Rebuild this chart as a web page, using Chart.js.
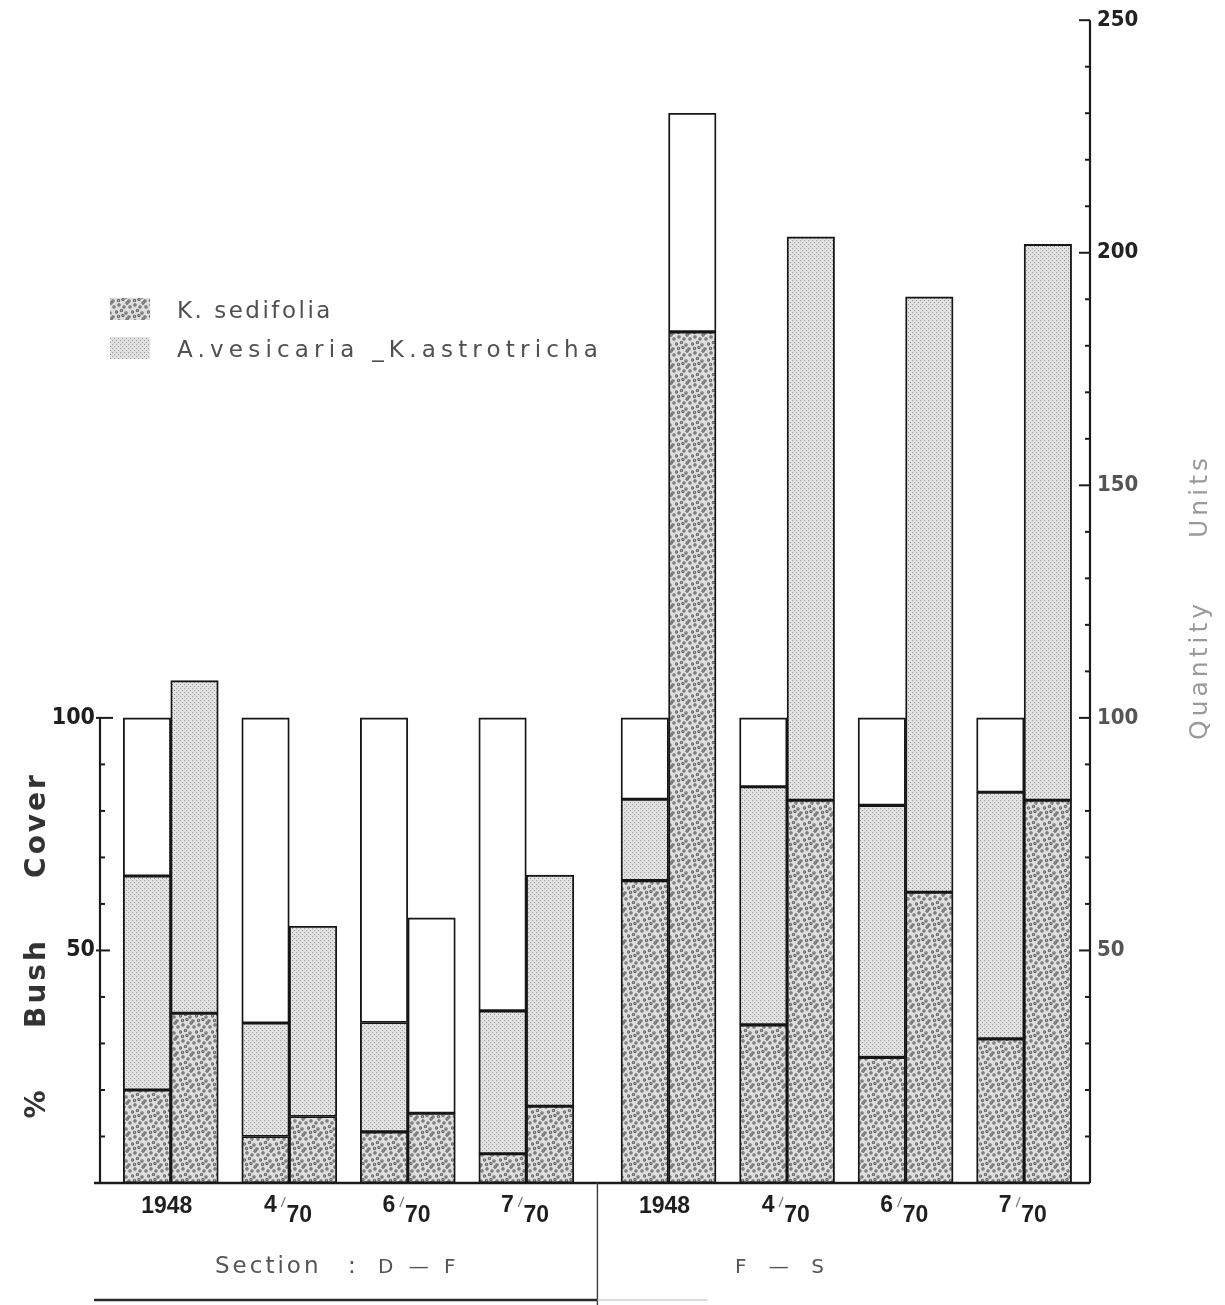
<!DOCTYPE html>
<html><head><meta charset="utf-8">
<script src="https://cdn.jsdelivr.net/npm/chart.js@4.4.1/dist/chart.umd.min.js"></script>
<style>html,body{margin:0;padding:0;background:#fff;}canvas{display:block}</style>
</head><body>
<canvas id="c" width="1225" height="1305"></canvas>
<script>
// ---------- data ----------
const groupLabels = ['1948', '4/70', '6/70', '7/70', '1948', '4/70', '6/70', '7/70'];
const sectionNames = ['D — F', 'F — S'];
const seriesNames = ['K. sedifolia', 'A.vesicaria _K.astrotricha'];
// left bar of each pair: % Bush Cover (cumulative tops of each band)
const coverSedifolia    = [20, 10, 11, 6.3, 65, 34, 27, 31];
const coverVesicariaTop = [66, 34.4, 34.5, 37, 82.5, 85.2, 81.2, 84];
const coverTotal        = [100, 100, 100, 100, 100, 100, 100, 100];
// right bar of each pair: Quantity Units (cumulative tops of each band)
const qtySedifolia      = [36.5, 14.3, 15, 16.5, 183, 82.3, 62.5, 82.3];
const qtyVesicariaTop   = [108, 55.2, 15, 66.2, 183, 203.4, 190.5, 201.8];
const qtyTotal          = [108, 55.2, 57, 66.2, 230, 203.4, 190.5, 201.8];
const leftTicks = [50, 100];
const rightTicks = [50, 100, 150, 200, 250];

// ---------- styles ----------
const SECTION_GAP = 0.2;
const positions = groupLabels.map((_, i) => i < 4 ? i : i + SECTION_GAP);

function makeTile(w, h, bg, draw) {
  const c = document.createElement('canvas');
  c.width = w; c.height = h;
  const g = c.getContext('2d');
  g.fillStyle = bg; g.fillRect(0, 0, w, h);
  draw(g, w, h);
  return c;
}
const darkTile = makeTile(16, 16, '#dedede', (g, w, h) => {
  const pts = [[2,3],[7,1],[12,3],[4.5,8],[9.5,6.5],[14,9],[1,13],[6.5,12.5],[11,11.5],[15,15]];
  for (const [px, py] of pts) for (const dx of [-w, 0, w]) for (const dy of [-h, 0, h]) {
    g.fillStyle = '#676767';
    g.beginPath(); g.arc(px + dx, py + dy, 1.7, 0, Math.PI * 2); g.fill();
    g.fillStyle = '#b4b4b4';
    g.beginPath(); g.arc(px + dx, py + dy, 0.7, 0, Math.PI * 2); g.fill();
  }
});
const lightTile = makeTile(4, 4, '#e2e2e2', g => {
  g.fillStyle = '#959595';
  g.fillRect(0, 0, 1, 1); g.fillRect(2, 2, 1, 1);
});
const ctx0 = document.getElementById('c').getContext('2d');
const darkPat = ctx0.createPattern(darkTile, 'repeat');
const lightPat = ctx0.createPattern(lightTile, 'repeat');

function seg(tops, bottoms) {
  return positions.map((x, i) => ({ x, y: Math.max(0, tops[i] - (bottoms ? bottoms[i] : 0)) }));
}
const barStyle = { borderColor: '#161616', borderWidth: 1.9, borderSkipped: false, barThickness: 47.5 };
const datasets = [
  { label: seriesNames[0], stack: 'cover', data: seg(coverSedifolia), backgroundColor: darkPat, ...barStyle },
  { label: seriesNames[1], stack: 'cover', data: seg(coverVesicariaTop, coverSedifolia), backgroundColor: lightPat, ...barStyle },
  { label: 'rest', stack: 'cover', data: seg(coverTotal, coverVesicariaTop), backgroundColor: '#ffffff', ...barStyle },
  { label: seriesNames[0], stack: 'qty', data: seg(qtySedifolia), backgroundColor: darkPat, ...barStyle },
  { label: seriesNames[1], stack: 'qty', data: seg(qtyVesicariaTop, qtySedifolia), backgroundColor: lightPat, ...barStyle },
  { label: 'rest', stack: 'qty', data: seg(qtyTotal, qtyVesicariaTop), backgroundColor: '#ffffff', ...barStyle },
];

const NARROW = "'Liberation Sans Narrow','DejaVu Sans Condensed','Liberation Sans',sans-serif";
const THIN = "'DejaVu Sans','Liberation Sans',sans-serif";

const decor = {
  id: 'decor',
  afterDatasetsDraw(chart) {
    const { ctx, chartArea: a, scales: { x, y } } = chart;
    const y0 = y.getPixelForValue(0);
    ctx.save();
    ctx.strokeStyle = '#1b1b1b';
    ctx.lineCap = 'butt';
    // left axis line (0..100)
    ctx.lineWidth = 2.2;
    ctx.beginPath(); ctx.moveTo(a.left, y0); ctx.lineTo(a.left, y.getPixelForValue(100)); ctx.stroke();
    // right axis line
    ctx.beginPath(); ctx.moveTo(a.right, y0); ctx.lineTo(a.right, y.getPixelForValue(250)); ctx.stroke();
    // baseline
    ctx.lineWidth = 2.6;
    ctx.beginPath(); ctx.moveTo(a.left - 6, y0); ctx.lineTo(a.right, y0); ctx.stroke();
    // left tick marks (inward)
    ctx.lineWidth = 2;
    for (let v = 10; v <= 100; v += 10) {
      const py = y.getPixelForValue(v);
      const len = v === 100 ? 13 : (v === 50 ? 10 : 5);
      ctx.beginPath(); ctx.moveTo(a.left - (v % 50 === 0 ? 4 : 0), py); ctx.lineTo(a.left + len, py); ctx.stroke();
    }
    // right tick marks (inward)
    for (let v = 10; v <= 250; v += 10) {
      const py = y.getPixelForValue(v);
      const len = v % 50 === 0 ? 11 : 5;
      ctx.beginPath(); ctx.moveTo(a.right - len, py); ctx.lineTo(a.right, py); ctx.stroke();
    }
    // group labels
    ctx.fillStyle = '#1e1e1e';
    ctx.textBaseline = 'alphabetic';
    groupLabels.forEach((lab, i) => {
      const cx = x.getPixelForValue(positions[i]);
      ctx.font = "bold 23px 'Liberation Sans',sans-serif";
      ctx.textAlign = 'center';
      if (lab.includes('/')) {
        const [num, den] = lab.split('/');
        ctx.fillText(num, cx - 19, y0 + 29);
        ctx.fillText(den, cx + 10, y0 + 39);
        ctx.strokeStyle = '#777'; ctx.lineWidth = 1.2;
        ctx.beginPath(); ctx.moveTo(cx - 8, y0 + 24); ctx.lineTo(cx - 4, y0 + 14); ctx.stroke();
      } else {
        ctx.fillText(lab, cx - 4, y0 + 30);
      }
    });
    // section divider
    const divX = (x.getPixelForValue(positions[3]) + x.getPixelForValue(positions[4])) / 2;
    ctx.strokeStyle = '#3a3a3a'; ctx.lineWidth = 1.4;
    ctx.beginPath(); ctx.moveTo(divX, y0); ctx.lineTo(divX, 1305); ctx.stroke();
    // bottom rule
    ctx.strokeStyle = '#2a2a2a'; ctx.lineWidth = 2.6;
    ctx.beginPath(); ctx.moveTo(a.left - 6, 1300); ctx.lineTo(divX, 1300); ctx.stroke();
    ctx.strokeStyle = '#cfcfcf'; ctx.lineWidth = 1.4;
    ctx.beginPath(); ctx.moveTo(divX, 1300); ctx.lineTo(divX + 110, 1300); ctx.stroke();
    // section labels
    ctx.fillStyle = '#555';
    ctx.textAlign = 'left';
    ctx.letterSpacing = '3px';
    ctx.font = `23px ${THIN}`;
    ctx.fillText('Section', 215, 1273);
    ctx.fillText(':', 348, 1273);
    ctx.font = `20px ${THIN}`;
    ctx.letterSpacing = '4.5px';
    ctx.fillText(sectionNames[0], 378, 1273);
    ctx.letterSpacing = '8px';
    ctx.fillText(sectionNames[1], 735, 1273);
    // legend
    const sw = [darkPat, lightPat];
    const spacing = ['2.5px', '5.2px'];
    seriesNames.forEach((name, i) => {
      const ly = 298 + i * 39;
      ctx.fillStyle = sw[i];
      ctx.fillRect(110, ly, 40, 22);
      ctx.fillStyle = '#505050';
      ctx.font = `23px ${THIN}`;
      ctx.letterSpacing = spacing[i];
      ctx.textAlign = 'left';
      ctx.fillText(name, 177, ly + 20);
    });
    // left title
    ctx.letterSpacing = '3px';
    ctx.save();
    ctx.translate(45, 0);
    ctx.rotate(-Math.PI / 2);
    ctx.fillStyle = '#333';
    ctx.font = `bold 28px ${THIN}`;
    ctx.textAlign = 'center';
    ctx.fillText('%', -1103, 0);
    ctx.fillText('Bush', -983, 0);
    ctx.fillText('Cover', -825, 0);
    ctx.restore();
    // right title
    ctx.save();
    ctx.translate(1207, 0);
    ctx.rotate(-Math.PI / 2);
    ctx.fillStyle = '#9a9a9a';
    ctx.font = `25px ${THIN}`;
    ctx.letterSpacing = '4px';
    ctx.textAlign = 'center';
    ctx.fillText('Quantity', -670, 0);
    ctx.fillText('Units', -496, 0);
    ctx.restore();
    ctx.restore();
  }
};

new Chart(document.getElementById('c'), {
  type: 'bar',
  data: { datasets },
  options: {
    responsive: false,
    devicePixelRatio: 1,
    animation: false,
    layout: { padding: { top: 18, bottom: 122, left: 0, right: 0 } },
    plugins: { legend: { display: false }, tooltip: { enabled: false } },
    scales: {
      x: { type: 'linear', min: -0.597, max: 7.756, offset: false, display: false },
      y: {
        position: 'left', min: 0, max: 250, stacked: true,
        grid: { display: false, drawTicks: false }, border: { display: false },
        afterBuildTicks: s => { s.ticks = leftTicks.map(v => ({ value: v })); },
        afterFit: s => { s.width = 100; },
        ticks: { padding: 5, color: '#1e1e1e', font: { family: NARROW, weight: 'bold', size: 23 } }
      },
      y2: {
        position: 'right', min: 0, max: 250,
        grid: { display: false, drawTicks: false }, border: { display: false },
        afterBuildTicks: s => { s.ticks = rightTicks.map(v => ({ value: v })); },
        afterFit: s => { s.width = 135; },
        ticks: { padding: 7, color: c => (c.tick && c.tick.value >= 200 ? '#222' : '#555'), font: { family: NARROW, weight: 'bold', size: 22 } }
      }
    }
  },
  plugins: [decor]
});
</script>
</body></html>
